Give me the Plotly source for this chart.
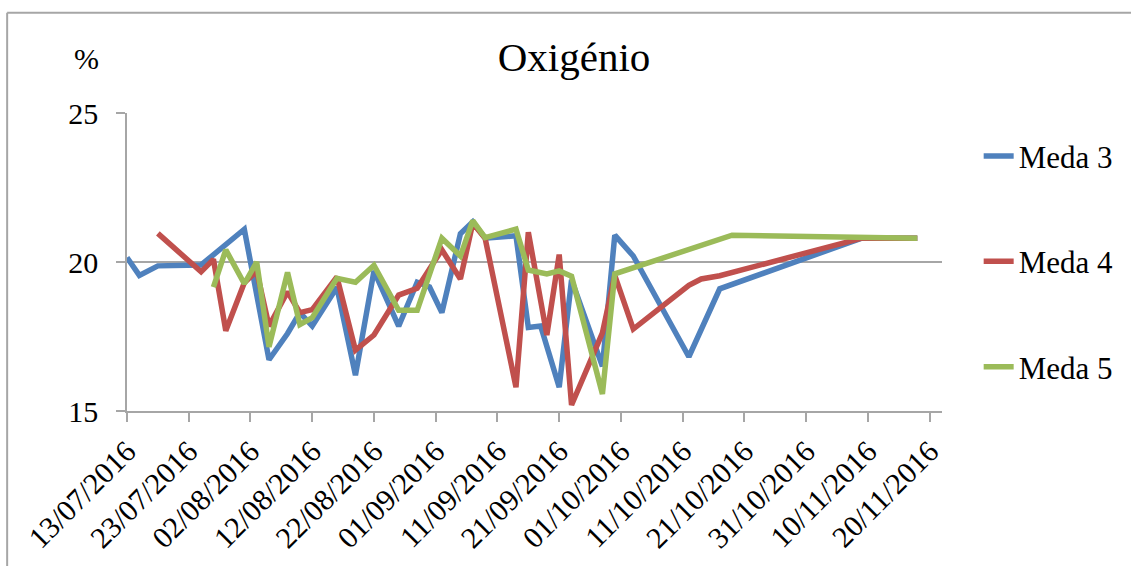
import plotly.graph_objects as go

# Oxygen readings (%) per sampling date, one series per "meda"
meda3_dates = ["2016-07-13", "2016-07-15", "2016-07-18", "2016-07-25", "2016-08-01",
               "2016-08-05", "2016-08-08", "2016-08-10", "2016-08-12", "2016-08-16",
               "2016-08-19", "2016-08-22", "2016-08-26", "2016-08-29", "2016-08-31",
               "2016-09-02", "2016-09-05", "2016-09-07", "2016-09-09", "2016-09-14",
               "2016-09-16", "2016-09-18", "2016-09-21", "2016-09-23", "2016-09-28",
               "2016-09-30", "2016-10-03", "2016-10-12", "2016-10-17", "2016-11-09",
               "2016-11-18"]
meda3_values = [20.15, 19.55, 19.87, 19.9, 21.1,
                16.72, 17.6, 18.3, 17.85, 19.15,
                16.2, 19.7, 17.85, 19.32, 19.16,
                18.3, 20.95, 21.35, 20.8, 20.88,
                17.8, 17.85, 15.8, 19.4, 16.5,
                20.9, 20.2, 16.82, 19.1, 20.8,
                20.8]

meda4_dates = ["2016-07-18", "2016-07-25", "2016-07-27", "2016-07-29", "2016-08-01",
               "2016-08-03", "2016-08-05", "2016-08-08", "2016-08-10", "2016-08-12",
               "2016-08-16", "2016-08-19", "2016-08-22", "2016-08-26", "2016-08-29",
               "2016-09-02", "2016-09-05", "2016-09-07", "2016-09-09", "2016-09-14",
               "2016-09-16", "2016-09-19", "2016-09-21", "2016-09-23", "2016-09-28",
               "2016-09-30", "2016-10-03", "2016-10-12", "2016-10-14", "2016-10-17",
               "2016-11-09", "2016-11-18"]
meda4_values = [20.96, 19.67, 20.09, 17.69, 19.3,
                19.7, 17.85, 19.0, 18.3, 18.4,
                19.5, 17.04, 17.55, 18.89, 19.12,
                20.41, 19.43, 21.3, 20.8, 15.8,
                21.0, 17.55, 20.25, 15.2, 17.62,
                19.55, 17.75, 19.22, 19.43, 19.54,
                20.8, 20.8]

meda5_dates = ["2016-07-27", "2016-07-29", "2016-08-01", "2016-08-03", "2016-08-05",
               "2016-08-08", "2016-08-10", "2016-08-12", "2016-08-16", "2016-08-19",
               "2016-08-22", "2016-08-26", "2016-08-29", "2016-09-02", "2016-09-05",
               "2016-09-07", "2016-09-09", "2016-09-14", "2016-09-16", "2016-09-19",
               "2016-09-21", "2016-09-23", "2016-09-28", "2016-09-30", "2016-10-19",
               "2016-11-09", "2016-11-18"]
meda5_values = [19.16, 20.41, 19.27, 20.0, 17.15,
                19.65, 17.9, 18.13, 19.45, 19.32,
                19.89, 18.38, 18.38, 20.8, 20.2,
                21.39, 20.82, 21.1, 19.73, 19.6,
                19.7, 19.52, 15.57, 19.6, 20.9,
                20.8, 20.8]

series_names = ["Meda 3", "Meda 4", "Meda 5"]
series_colors = ["#4F81BD", "#C0504D", "#9BBB59"]

FONT = "'Liberation Serif', 'Times New Roman', 'DejaVu Serif', serif"
GRID = "#A6A6A6"

fig = go.Figure()
for name, color, xs, ys in zip(series_names, series_colors,
                               [meda3_dates, meda4_dates, meda5_dates],
                               [meda3_values, meda4_values, meda5_values]):
    fig.add_trace(go.Scatter(
        x=xs, y=ys, name=name, mode="lines", legendgroup=name,
        line=dict(color=color, width=5.5),
    ))

fig.update_layout(
    width=1131, height=566,
    margin=dict(l=127, r=188, t=113, b=147),
    paper_bgcolor="white", plot_bgcolor="white",
    font=dict(family=FONT, size=30, color="black"),
    title=dict(text="Oxigénio", x=574 / 1131, xanchor="center",
               y=1 - 57 / 566, yanchor="middle",
               font=dict(family=FONT, size=41, color="black")),
    showlegend=True,
    legend=dict(x=1.045, xanchor="left", y=0.945, yanchor="top",
                font=dict(family=FONT, size=31, color="black"),
                tracegroupgap=62, bgcolor="rgba(0,0,0,0)"),
    xaxis=dict(
        type="date", range=["2016-07-13", "2016-11-22"],
        tick0="2016-07-13", dtick=10 * 86400000, tickformat="%d/%m/%Y",
        tickangle=-45, ticks="outside", ticklen=9, tickwidth=1.5, tickcolor=GRID,
        showline=True, linecolor=GRID, linewidth=1.5, showgrid=False,
        zeroline=False, tickfont=dict(family=FONT, size=30, color="black"),
    ),
    yaxis=dict(
        range=[15, 25], tick0=15, dtick=5, ticks="outside", ticklen=9,
        tickwidth=1.5, tickcolor=GRID, showline=True, linecolor=GRID,
        linewidth=1.5, showgrid=True, gridcolor=GRID, gridwidth=1.5,
        zeroline=False, ticklabelstandoff=12,
        tickfont=dict(family=FONT, size=30, color="black"),
    ),
    annotations=[dict(text="%", xref="paper", yref="paper",
                      x=(86 - 127) / 816, y=(419 - 57) / 306,
                      xanchor="center", yanchor="middle", showarrow=False,
                      font=dict(family=FONT, size=30, color="black"))],
    shapes=[
        dict(type="line", xref="paper", yref="paper",
             x0=(7 - 127) / 816, x1=1.4, y0=(419 - 10) / 306, y1=(419 - 10) / 306,
             line=dict(color=GRID, width=2)),
        dict(type="line", xref="paper", yref="paper",
             x0=(7 - 127) / 816, x1=(7 - 127) / 816, y0=(419 - 10) / 306, y1=-0.7,
             line=dict(color=GRID, width=2)),
    ],
)

fig.write_html("out.html")
